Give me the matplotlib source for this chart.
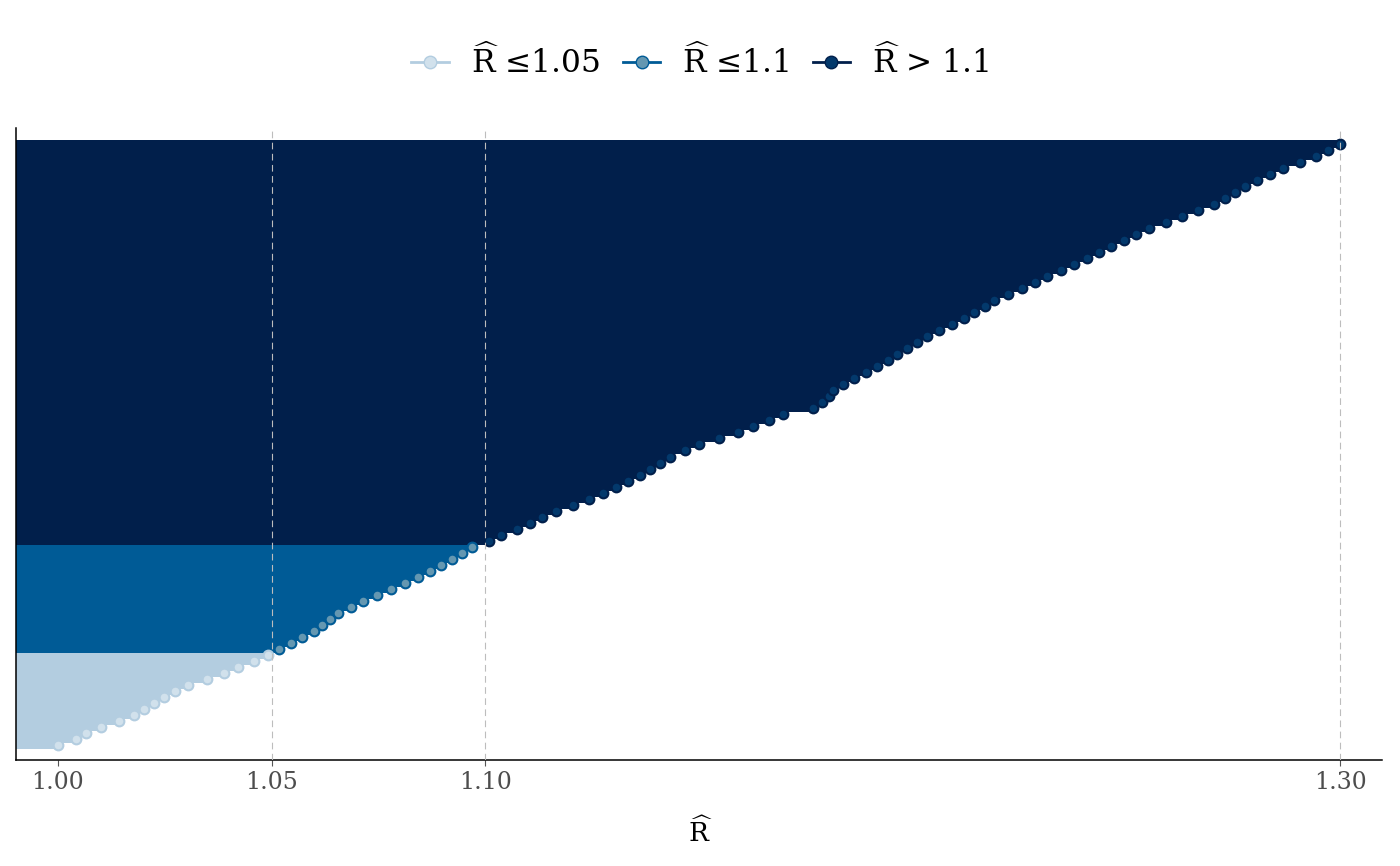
import matplotlib
matplotlib.use("Agg")
import matplotlib.pyplot as plt
from matplotlib.lines import Line2D
import numpy as np

plt.rcParams['font.family'] = ['DejaVu Serif']
plt.rcParams['mathtext.fontset'] = 'dejavuserif'

# R-hat values, sorted (bottom to top)
rhat = [
    1.0000, 1.0042, 1.0065, 1.0100, 1.0144, 1.0177, 1.0201, 1.0224, 1.0248, 1.0274,
    1.0304, 1.0349, 1.0388, 1.0421, 1.0459, 1.0491, 1.0517, 1.0545, 1.0571, 1.0599,
    1.0617, 1.0636, 1.0656, 1.0685, 1.0714, 1.0746, 1.0780, 1.0813, 1.0842, 1.0870,
    1.0896, 1.0922, 1.0945, 1.0969, 1.1008, 1.1036, 1.1075, 1.1104, 1.1133, 1.1165,
    1.1206, 1.1243, 1.1275, 1.1306, 1.1335, 1.1361, 1.1385, 1.1408, 1.1433, 1.1467,
    1.1500, 1.1547, 1.1591, 1.1627, 1.1663, 1.1697, 1.1767, 1.1787, 1.1803, 1.1814,
    1.1837, 1.1863, 1.1890, 1.1916, 1.1943, 1.1963, 1.1987, 1.2010, 1.2033, 1.2061,
    1.2091, 1.2121, 1.2144, 1.2168, 1.2191, 1.2222, 1.2255, 1.2286, 1.2314, 1.2346,
    1.2377, 1.2408, 1.2436, 1.2465, 1.2494, 1.2523, 1.2553, 1.2592, 1.2630, 1.2667,
    1.2705, 1.2730, 1.2754, 1.2778, 1.2806, 1.2836, 1.2867, 1.2906, 1.2944, 1.2971,
    1.3000,
]
breaks = [1.00, 1.05, 1.10, 1.30]
tick_labels = ["1.00", "1.05", "1.10", "1.30"]
legend_labels = [r"$\widehat{\mathrm{R}}$ ≤1.05", r"$\widehat{\mathrm{R}}$ ≤1.1", r"$\widehat{\mathrm{R}}$ > 1.1"]

# bayesplot blue scheme
line_cols = ["#b3cde0", "#005b96", "#011f4b"]
fill_cols = ["#d1e1ec", "#6497b1", "#03396c"]

rhat = np.array(rhat)
rating = np.where(rhat <= 1.05, 0, np.where(rhat <= 1.1, 1, 2))
pos = np.arange(len(rhat))

fig = plt.figure(figsize=(14, 8.66), dpi=100)
ax = fig.add_axes([16/1400, 106/866, 1366/1400, 632/866])

xmin, xmax = 0.9902, 1.3098
ax.set_xlim(xmin, xmax)
ax.set_ylim(-2.49, 102.65)

# segments from the left edge to each R-hat, then points on top
for i in range(len(rhat)):
    ax.hlines(pos[i], xmin, rhat[i], color=line_cols[rating[i]], linewidth=5.4,
              capstyle='butt', antialiased=False, zorder=2)
for i in range(len(rhat)):
    ax.plot(rhat[i], pos[i], 'o', ms=7, mfc=fill_cols[rating[i]],
            mec=line_cols[rating[i]], mew=1.5, zorder=3)

for b in breaks[1:]:
    ax.axvline(b, color='#bdbdbd', linewidth=0.8, linestyle=(0, (6, 4)), zorder=4)

for s in ['top', 'right']:
    ax.spines[s].set_visible(False)
ax.spines['left'].set_linewidth(1.1)
ax.spines['bottom'].set_linewidth(1.1)

ax.set_yticks([])
ax.set_xticks(breaks)
ax.set_xticklabels(tick_labels)
ax.tick_params(axis='x', length=4, width=0.8, color='#555555', labelcolor='#4d4d4d',
               labelsize=17, pad=4)
fig.text(700/1400, 1 - 842/866, r"$\widehat{\mathrm{R}}$", fontsize=19,
         ha='center', va='baseline')

handles = [Line2D([0], [0], color=line_cols[j], lw=2, marker='o', ms=9,
                  mfc=fill_cols[j], mec=line_cols[j], mew=1) for j in range(3)]
fig.legend(handles, legend_labels, loc='center', bbox_to_anchor=(0.5, 1 - 62/866),
           ncol=3, frameon=False, fontsize=22.5, handlelength=1.2, handletextpad=0.7,
           columnspacing=0.75)

fig.savefig("out.png", dpi=100)
